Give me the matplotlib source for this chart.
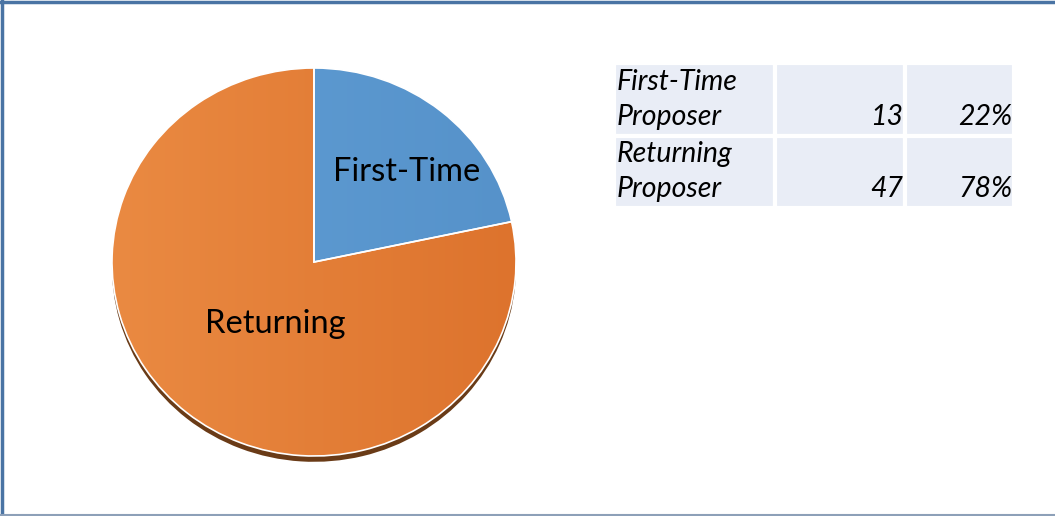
import matplotlib.pyplot as plt
import matplotlib.colors as mcolors
import numpy as np

plt.rcParams['font.family'] = ['Lato', 'DejaVu Sans']

# data
categories = ["First-Time", "Returning"]
row_labels = ["First-Time\nProposer", "Returning\nProposer"]
counts = [13, 47]
percents = ["22%", "78%"]

colors_light = ["#609ED5", "#EA8A42"]
colors_dark = ["#5692CA", "#DD732D"]

W, H = 1055, 516
fig = plt.figure(figsize=(W / 100, H / 100), dpi=100)

# frame around the chart
frame = fig.add_axes([0, 0, 1, 1])
frame.set_xlim(0, W)
frame.set_ylim(H, 0)
frame.axis("off")
frame.plot([2, 2], [0, H], color="#4A74A4", lw=2.5)
frame.plot([0, W], [2, 2], color="#4A74A4", lw=2.5)
frame.plot([0, W], [H - 1, H - 1], color="#8DA0B8", lw=1.5)

# pie
cx, cy, rx, ry = 314, 262, 202, 194
ax = fig.add_axes([(cx - rx) / W, (H - cy - ry) / H, 2 * rx / W, 2 * ry / H])

# shadow under the pie
shadow, _ = ax.pie(counts, colors=["#6A3B17", "#6A3B17"], startangle=90, counterclock=False,
                   center=(0, -0.03), radius=1.0, frame=True)
for s in shadow:
    s.set_clip_on(False)
wedges, _ = ax.pie(counts, colors=colors_light, startangle=90, counterclock=False,
                   wedgeprops=dict(edgecolor="white", linewidth=1.2), frame=True)
ax.set_xlim(-1, 1)
ax.set_ylim(-1, 1)
ax.set_aspect("auto")
ax.axis("off")

# gradient fill clipped to each wedge
for w, c1, c2 in zip(wedges, colors_light, colors_dark):
    cmap = mcolors.LinearSegmentedColormap.from_list("g", [c1, c2])
    grad = np.linspace(0, 1, 256).reshape(1, -1)
    im = ax.imshow(grad, cmap=cmap, extent=(-1, 1, -1, 1), aspect="auto", zorder=3)
    im.set_clip_path(w)
for w in wedges:
    w.set_facecolor("none")
    w.set_zorder(5)
ax.set_xlim(-1, 1)
ax.set_ylim(-1, 1)

ax.text(0.46, 0.465, categories[0], fontsize=23.5, ha="center", va="center", zorder=6)
ax.text(-0.19, -0.32, categories[1], fontsize=23.5, ha="center", va="center", zorder=6)

# table
tab_ax = fig.add_axes([0, 0, 1, 1])
tab_ax.axis("off")
cell_text = [[row_labels[i], "\n" + str(counts[i]), "\n" + percents[i]] for i in range(2)]
tbl = tab_ax.table(cellText=cell_text,
                   cellColours=[["#E9EDF6"] * 3] * 2,
                   colWidths=[0.4025, 0.325, 0.2725],
                   bbox=[614 / W, (H - 208) / H, 400 / W, 145 / H])
tbl.auto_set_font_size(False)
for (r, c), cell in tbl.get_celld().items():
    cell.set_edgecolor("white")
    cell.set_linewidth(3)
    cell.PAD = 0.015
    t = cell.get_text()
    t.set_fontsize(20.5)
    t.set_fontstyle("italic")
    t.set_linespacing(1.42)
    if c == 0:
        cell.set_text_props(ha="left", multialignment="left")
    else:
        cell.set_text_props(ha="right", multialignment="right")

fig.savefig("out.png", dpi=100)
